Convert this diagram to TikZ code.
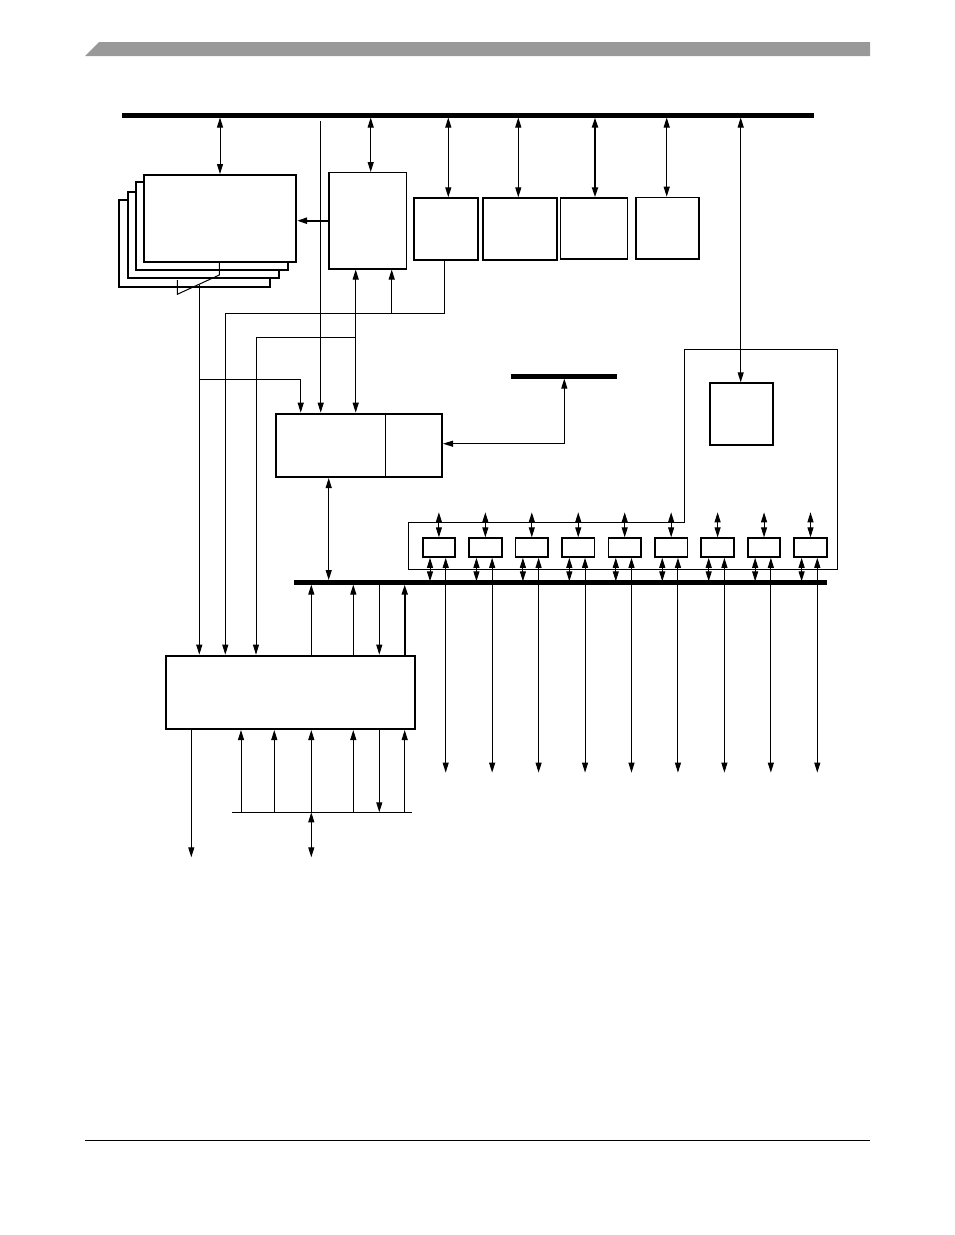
\documentclass[tikz,border=0pt]{standalone}
\usetikzlibrary{arrows.meta}
\begin{document}
\begin{tikzpicture}[x=1pt,y=-1pt,
  ln/.style={line width=1pt},
  arr/.style={ln,-{Triangle[length=10pt,width=6pt]}},
  darr/.style={ln,{Triangle[length=10pt,width=6pt]}-{Triangle[length=10pt,width=6pt]}},
  bus/.style={line width=5pt},
  blk/.style={draw,line width=2pt,fill=white,inner sep=0pt,anchor=north west},
  thinblk/.style={blk,line width=1.2pt},
]
\useasboundingbox (0,0) rectangle (954,1235);
% header and footer
\fill[black!40] (85,56) -- (99,42) -- (870,42) -- (870,56) -- cycle;
\draw[line width=1pt] (85,1140) -- (870,1140);

% buses
\draw[bus] (122,115) coordinate (tbl) -- (814,115) coordinate (tbr);
\coordinate (tb) at (0,117.5);
\draw[line width=4.5pt] (511,376.3) coordinate (sbl) -- (616.7,376.3) coordinate (sbr);
\coordinate (sb) at (0,378.6);
\draw[line width=4.5pt] (294,582.3) coordinate (b2l) -- (826.7,582.3) coordinate (b2r);
\coordinate (b2t) at (0,580);
\coordinate (b2b) at (0,584.6);

% outline around peripheral blocks
\draw[ln] (408.3,522.3) -- (684.3,522.3) -- (684.3,349.3) -- (837,349.3) -- (837,569) -- (408.3,569) -- cycle;

% stacked blocks
\node[blk,minimum width=151pt,minimum height=86.7pt] (S4) at (118.3,199) {};
\node[blk,minimum width=151.6pt,minimum height=86.6pt] (S3) at (126.7,190.7) {};
\node[blk,minimum width=152pt,minimum height=88pt] (S2) at (135.3,181) {};
\node[blk,minimum width=152pt,minimum height=87pt] (S1) at (143,174) {};

% blocks
\node[thinblk,minimum width=77.7pt,minimum height=96.3pt] (B) at (328.3,172) {};
\node[blk,minimum width=64pt,minimum height=61.7pt] (C) at (413.3,197.3) {};
\node[blk,minimum width=74pt,minimum height=61.7pt] (D) at (482.3,197.3) {};
\node[blk,line width=1.5pt,minimum width=67pt,minimum height=61pt] (E) at (559.7,197.3) {};
\node[blk,line width=1.6pt,minimum width=63pt,minimum height=61.3pt] (F) at (635.3,196.7) {};
\node[blk,line width=1.6pt,minimum width=63pt,minimum height=61.7pt] (G) at (709.3,382.3) {};
\node[blk,minimum width=165.7pt,minimum height=63.3pt] (M) at (275.3,412.7) {};
\draw[line width=1.2pt] (385.7,0 |- M.north) -- (385.7,0 |- M.south);
\node[blk,minimum width=248.7pt,minimum height=73.3pt] (N) at (165.3,654.7) {};

% top bus connections
\draw[darr] (220,0 |- tb) -- (220,0 |- S1.north);
\draw[darr] (370.7,0 |- tb) -- (370.7,0 |- B.north);
\draw[darr] (448.3,0 |- tb) -- (448.3,0 |- C.north);
\draw[darr] (518.3,0 |- tb) -- (518.3,0 |- D.north);
\draw[darr,line width=2pt] (595,0 |- tb) -- (595,0 |- E.north);
\draw[darr] (666.7,0 |- tb) -- (666.7,0 |- F.north);
\draw[darr] (740.7,0 |- tb) -- (740.7,0 |- G.north);

% B to stack
\draw[arr,line width=2pt] (B.west |- 0,220.7) -- (S1.east |- 0,220.7);

% long line from under top bus to M
\draw[arr] (320.7,121) -- (320.7,0 |- M.north);

% bracket under stack
\draw[ln] (219.3,0 |- S1.south) -- (219.3,275) -- (177.3,294.3) -- (177.3,280);
\draw[arr] (199.3,284.5) -- (199.3,0 |- N.north);
\draw[arr] (199.3,379) -- (300.7,379) -- (300.7,0 |- M.north);

% from C down
\draw[arr] (444.3,0 |- C.south) -- (444.3,313) -- (225.3,313) -- (225.3,0 |- N.north);
\draw[arr] (391.7,313) -- (391.7,0 |- B.south);

% B <-> M and branch to N
\draw[darr] (355.7,0 |- B.south) -- (355.7,0 |- M.north);
\draw[arr] (355.7,337) -- (256,337) -- (256,0 |- N.north);

% M right to small bus
\draw[darr] (M.east |- 0,443.7) -- (564.3,443.7) -- (564.3,0 |- sb);

% M <-> bus2
\draw[darr] (328.7,0 |- M.south) -- (328.7,0 |- b2t);

% peripheral small blocks
\foreach \i in {0,...,8} {
  \pgfmathsetmacro\xl{421.7+46.45*\i}
  \node[blk,line width=1.8pt,minimum width=32.6pt,minimum height=18.7pt] (p\i) at (\xl,537.3) {};
  \draw[darr] ([yshift=25pt]p\i.north) -- (p\i.north);
  \draw[darr] ([xshift=8.3pt]p\i.south west) -- ++(0,23.5);
  \draw[darr] ([xshift=24pt]p\i.south west) -- ++(0,214.8);
}

% N to bus2
\draw[arr] (311.3,0 |- N.north) -- (311.3,0 |- b2b);
\draw[arr] (353.3,0 |- N.north) -- (353.3,0 |- b2b);
\draw[arr] (379.3,0 |- b2b) -- (379.3,0 |- N.north);
\draw[arr,line width=2pt] (404.7,0 |- N.north) -- (404.7,0 |- b2b);

% below N
\draw[arr] (191.3,0 |- N.south) -- (191.3,857.3);
\draw[ln] (232,812.3) coordinate (ll) -- (411.7,812.3) coordinate (lr);
\foreach \x in {241,274.3,311.3,353.3,404.7} {
  \draw[arr] (\x,812.3) -- (\x,0 |- N.south);
}
\draw[arr] (379.3,0 |- N.south) -- (379.3,812.3);
\draw[darr] (311.3,812.3) -- (311.3,857.3);
\end{tikzpicture}
\end{document}
